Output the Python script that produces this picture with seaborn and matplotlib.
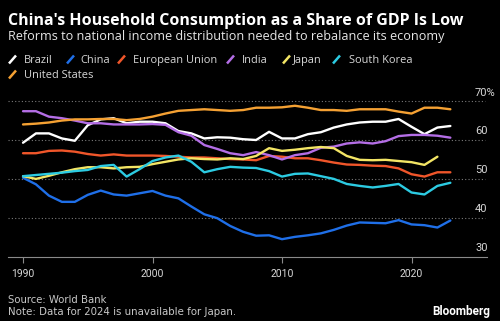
import matplotlib
matplotlib.use("Agg")
import matplotlib.pyplot as plt
import matplotlib.transforms as mtransforms
from matplotlib.lines import Line2D
import seaborn as sns
import pandas as pd
import numpy as np

years = list(range(1990, 2024))

brazil = [59.3, 61.7, 61.7, 60.4, 59.8, 63.8, 65.3, 65.6, 64.3, 64.7,
          64.7, 64.3, 62.3, 61.7, 60.4, 60.7, 60.6, 60.2, 60.0, 62.1,
          60.4, 60.4, 61.5, 62.0, 63.2, 64.0, 64.5, 64.7, 64.7, 65.4,
          63.4, 61.5, 63.2, 63.6]
china = [50.3, 48.6, 45.7, 44.1, 44.1, 45.9, 47.0, 46.0, 45.7, 46.3,
         46.9, 45.7, 45.0, 42.9, 40.9, 39.9, 37.9, 36.4, 35.4, 35.5,
         34.5, 35.1, 35.5, 36.0, 36.9, 38.0, 38.8, 38.7, 38.6, 39.4,
         38.3, 38.1, 37.5, 39.3]
eu = [56.6, 56.6, 57.2, 57.3, 57.0, 56.4, 56.0, 56.3, 56.0, 56.0,
      56.0, 55.9, 55.7, 55.5, 55.5, 55.3, 55.1, 55.0, 54.8, 55.9,
      55.7, 55.3, 55.3, 54.8, 54.2, 53.7, 53.6, 53.4, 53.3, 52.7,
      51.2, 50.6, 51.7, 51.7]
india = [67.4, 67.4, 66.0, 65.6, 65.0, 64.3, 64.3, 64.0, 64.0, 64.0,
         64.1, 63.9, 62.0, 61.1, 58.7, 57.7, 56.6, 56.1, 56.9, 56.1,
         55.0, 56.1, 56.6, 58.0, 58.3, 59.1, 59.4, 59.1, 59.7, 61.0,
         61.3, 61.3, 61.1, 60.6]
japan = [50.7, 50.0, 50.8, 51.7, 52.5, 53.0, 53.0, 52.7, 53.0, 53.1,
         53.8, 54.4, 55.0, 55.3, 55.1, 55.0, 55.3, 55.1, 55.9, 57.9,
         57.2, 57.5, 57.9, 58.2, 57.9, 55.9, 54.9, 54.8, 54.9, 54.6,
         54.3, 53.6, 55.7, np.nan]
south_korea = [50.7, 51.0, 51.3, 51.6, 52.0, 52.3, 53.3, 53.6, 50.6, 52.5,
               54.6, 55.5, 56.0, 54.4, 51.7, 52.5, 53.1, 52.9, 52.8, 52.0,
               50.6, 51.3, 51.4, 50.7, 50.0, 48.7, 48.2, 47.8, 48.2, 48.7,
               46.5, 46.0, 48.2, 49.0]
united_states = [64.0, 64.2, 64.5, 65.0, 65.3, 65.3, 65.4, 65.4, 65.1, 65.4,
                 66.0, 66.8, 67.5, 67.7, 67.9, 67.7, 67.5, 67.7, 68.3, 68.3,
                 68.4, 68.8, 68.3, 67.7, 67.7, 67.5, 67.9, 67.9, 67.9, 67.3,
                 66.8, 68.3, 68.3, 67.9]

countries = ["Brazil", "China", "European Union", "India", "Japan",
             "South Korea", "United States"]
series = [brazil, china, eu, india, japan, south_korea, united_states]
colors = ["#ffffff", "#1f6fe8", "#f0562a", "#b46ee6", "#f3e565",
          "#2ccbe2", "#f5a133"]

y_ticks = [30, 40, 50, 60, 70]
y_tick_labels = ["30", "40", "50", "60", "70%"]
x_ticks = [1990, 2000, 2010, 2020]

rows = []
for c, vals in zip(countries, series):
    for yr, v in zip(years, vals):
        rows.append({"year": yr, "value": v, "country": c})
df = pd.DataFrame(rows)

sns.set_theme(style="dark")
plt.rcParams["font.family"] = ["Roboto", "DejaVu Sans"]

fig = plt.figure(figsize=(5.0, 3.21), dpi=100, facecolor="black")
ax = fig.add_axes([0.016, 0.2003, 0.958, 0.509], facecolor="black")

palette = dict(zip(countries, colors))
sns.lineplot(data=df, x="year", y="value", hue="country", palette=palette,
             hue_order=countries, linewidth=1.7, ax=ax, legend=False,
             estimator=None)

ax.set_xlim(1988.84, 2025.83)
ax.set_ylim(30, 72)
ax.set_xlabel("")
ax.set_ylabel("")

for s in ["top", "right", "left"]:
    ax.spines[s].set_visible(False)
ax.spines["bottom"].set_visible(True)
ax.spines["bottom"].set_color("#8a8a8a")
ax.spines["bottom"].set_linewidth(0.8)

ax.set_xticks(x_ticks)
ax.set_xticklabels([str(t) for t in x_ticks])
ax.tick_params(axis="x", colors="#8a8a8a", length=4, width=0.8,
               direction="out", labelcolor="#d8d8d8", labelsize=7.5, pad=5,
               bottom=True)
ax.set_yticks([])
ax.grid(False)

ytrans = mtransforms.blended_transform_factory(fig.transFigure, ax.transData)
for t, lab in zip(y_ticks, y_tick_labels):
    if t > 30:
        ax.axhline(t, xmin=0, xmax=(2025.7 - 1988.84) / (2025.83 - 1988.84),
                   color="#7a7a7a", linestyle=(0, (1, 2)), linewidth=0.8,
                   zorder=0)
    ax.text(475 / 500, t + 0.9, lab, transform=ytrans,
            ha="left", va="bottom", color="#d8d8d8", fontsize=8)

renderer = fig.canvas.get_renderer()


def fit(txt, width_px):
    w = txt.get_window_extent(renderer).width
    if w > 0:
        txt.set_fontsize(txt.get_fontsize() * width_px / w)
    return txt


t = fig.text(8 / 500, 1 - 25 / 321, "China's Household Consumption as a Share of GDP Is Low",
             color="white", fontsize=11, fontweight="bold", ha="left",
             va="baseline", family=["Open Sans", "DejaVu Sans"])
fit(t, 455)
t = fig.text(8 / 500, 1 - 40 / 321,
             "Reforms to national income distribution needed to rebalance its economy",
             color="#e6e6e6", fontsize=8.5, ha="left", va="baseline",
             family=["Open Sans", "DejaVu Sans"])
fit(t, 433)

# legend
leg_items = [
    ("Brazil", 9, 24, 63),
    ("China", 67, 80, 63),
    ("European Union", 118, 133, 63),
    ("India", 227, 242, 63),
    ("Japan", 283, 293, 63),
    ("South Korea", 333, 349, 63),
    ("United States", 9, 24, 78),
]
probe = fig.text(0, 0, "European Union", fontsize=8.1,
                 family=["Open Sans", "DejaVu Sans"])
fit(probe, 84)
leg_fs = probe.get_fontsize()
probe.remove()
for (name, sx, tx, by), col in zip(leg_items, colors):
    fig.add_artist(Line2D([sx / 500, (sx + 7) / 500],
                          [1 - (by + 0.5) / 321, 1 - (by - 7.5) / 321],
                          transform=fig.transFigure, color=col, linewidth=1.8,
                          solid_capstyle="butt"))
    fig.text(tx / 500, 1 - by / 321, name, color="#d8d8d8", fontsize=leg_fs,
             ha="left", va="baseline", family=["Open Sans", "DejaVu Sans"])

t = fig.text(8 / 500, 1 - 303 / 321, "Source: World Bank", color="#c8c8c8",
             fontsize=7, ha="left", va="baseline", family=["DejaVu Sans"])
fit(t, 99)
t = fig.text(8 / 500, 1 - 315 / 321, "Note: Data for 2024 is unavailable for Japan.",
             color="#c8c8c8", fontsize=7, ha="left", va="baseline",
             family=["DejaVu Sans"])
fit(t, 231)
t = fig.text(490 / 500, 1 - 315 / 321, "Bloomberg", color="white", fontsize=7.5,
             fontweight="bold", ha="right", va="baseline")
fit(t, 58)

fig.savefig("out.png", dpi=100, facecolor="black")
